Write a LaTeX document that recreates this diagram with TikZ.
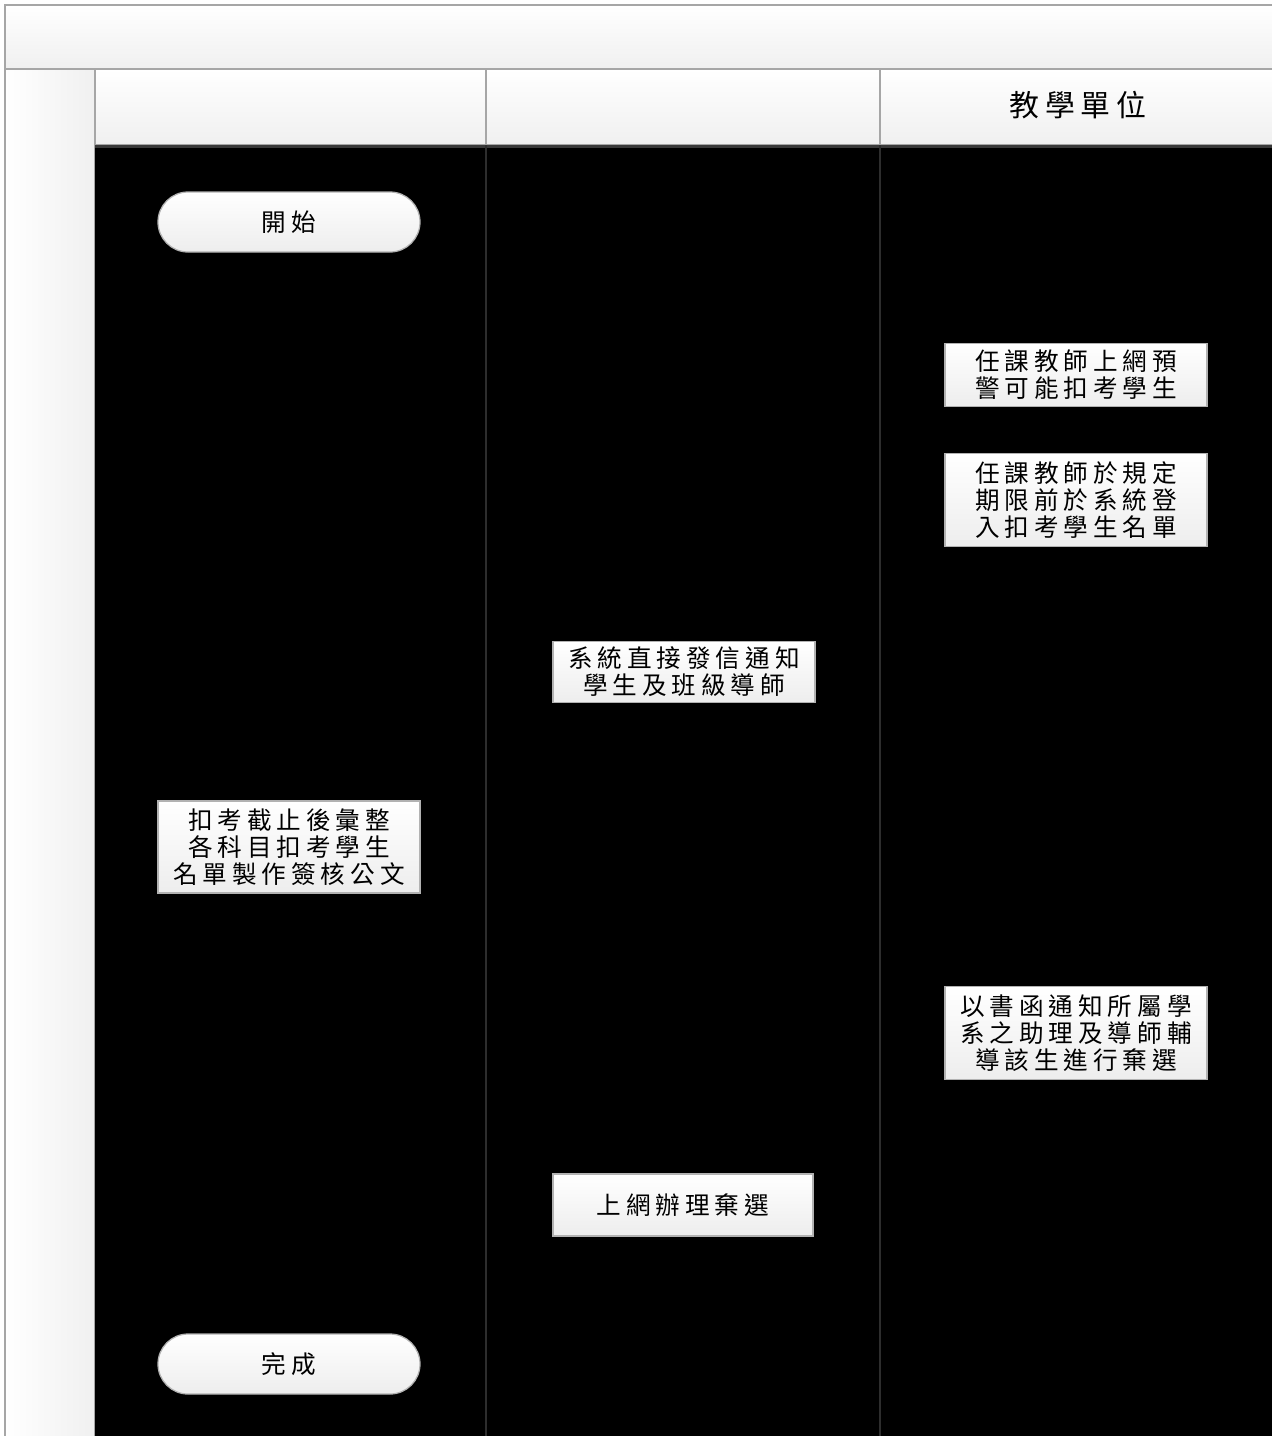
\documentclass[tikz,border=0pt]{standalone}
\usepackage{fontspec}
\newfontfamily\cjk[LetterSpace=20]{Noto Sans CJK TC}
\usetikzlibrary{positioning}
\tikzset{
  cellfill/.style={draw=gray!70, line width=0.3mm, top color=white, bottom color=gray!12},
  procbox/.style={draw=gray!60, line width=0.25mm, top color=white, bottom color=gray!14,
    minimum width=52.4mm, inner sep=0.8mm, align=center,
    font=\cjk\fontsize{14pt}{15.4pt}\selectfont},
  termbox/.style={procbox, rounded corners=6mm, minimum height=12mm},
}
\begin{document}
\begin{tikzpicture}[x=0.2mm,y=-0.2mm]
    \useasboundingbox (0,0) rectangle (1271,1436);
    % Frame: title bar, side column, lane headers
    \draw[cellfill] (5,5) rectangle (1275,69);
    \draw[draw=gray!70, line width=0.3mm, left color=white, right color=gray!12] (5,69) rectangle (95,1440);
    \draw[cellfill] (95,69) rectangle (486,145);
    \draw[cellfill] (486,69) rectangle (880,145);
    \draw[cellfill] (880,69) rectangle (1275,145);
    \node[font=\cjk\fontsize{17pt}{20pt}\selectfont] (unit) at (1078,105) {教學單位};
    % Lanes
    \fill[black] (95,145) rectangle (1275,1440);
    \draw[gray!45!black, line width=0.6mm] (95,146) -- (1275,146);
    \draw[gray!35!black, line width=0.35mm] (486,145) -- (486,1440);
    \draw[gray!35!black, line width=0.35mm] (880,145) -- (880,1440);
    % Steps
    \node[termbox] (start) at (289,222) {開始};
    \node[procbox, minimum height=12.6mm] (warn) at (1076,375) {任課教師上網預\\警可能扣考學生};
    \node[procbox, minimum height=18.6mm] (enter) at (1076,500) {任課教師於規定\\期限前於系統登\\入扣考學生名單};
    \node[procbox, minimum height=12.2mm] (mail) at (684,672) {系統直接發信通知\\學生及班級導師};
    \node[procbox, minimum height=18.4mm] (report) at (289,847) {扣考截止後彙整\\各科目扣考學生\\名單製作簽核公文};
    \node[procbox, minimum height=18.6mm] (letter) at (1076,1033) {以書函通知所屬學\\系之助理及導師輔\\導該生進行棄選};
    \node[procbox, minimum width=52mm, minimum height=12.4mm] (drop) at (683,1205) {上網辦理棄選};
    \node[termbox] (done) at (289,1364) {完成};
  \end{tikzpicture}
\end{document}
